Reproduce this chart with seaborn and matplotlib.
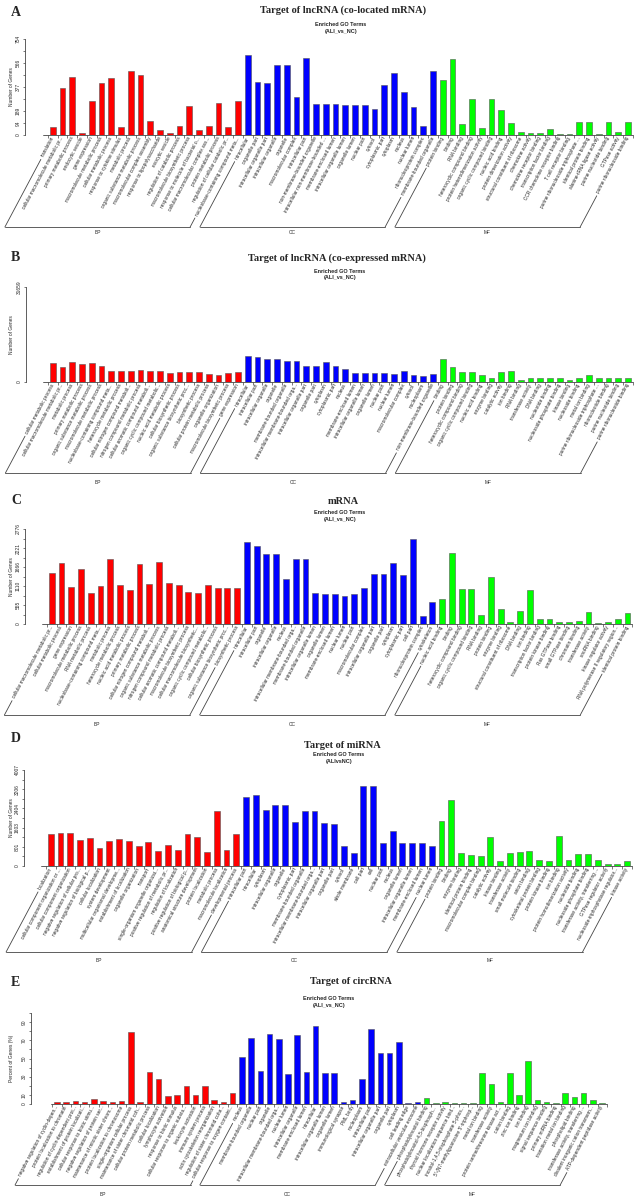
import numpy as np
import pandas as pd
import matplotlib
matplotlib.use("Agg")
import matplotlib.pyplot as plt
from matplotlib.lines import Line2D
import seaborn as sns

# ---- panel A: target of lncRNA (co-located mRNA) ----
a_bp_terms = ["translation", "cellular macromolecule metabolic pr...", "primary metabolic process",
              "endocytic vesicle", "gene expression", "macromolecule metabolic process",
              "cellular metabolic process", "response to cytokine stimulus", "metabolic process",
              "organic substance metabolic process", "macromolecular complex assembly",
              "response to lipopolysaccharide", "exocytic vesicle", "regulation of catabolic process",
              "macromolecule biosynthetic process", "response to molecule of bacterial o...",
              "cellular macromolecular complex ass...", "protein metabolic process",
              "regulation of cellular catabolic pr...", "nucleobase-containing compound meta..."]
a_bp_vals = [60, 368, 457, 13, 265, 405, 444, 63, 499, 468, 113, 39, 13, 74, 231, 39, 71, 255, 66, 268]
a_cc_terms = ["intracellular", "organelle part", "intracellular organelle part", "intracellular organelle",
              "organelle", "macromolecular complex", "intracellular part", "non-membrane-bounded organelle",
              "intracellular non-membrane-bounded ...", "membrane-enclosed lumen",
              "intracellular organelle lumen", "organelle lumen", "nuclear part", "cytosol",
              "cytoplasmic part", "cytoplasm", "nucleus", "nuclear lumen", "ribonucleoprotein complex",
              "membrane-bounded organelle"]
a_cc_vals = [628, 415, 410, 552, 552, 297, 607, 242, 242, 242, 236, 236, 234, 205, 394, 486, 339, 218, 71, 502]
a_mf_terms = ["protein binding", "binding", "RNA binding", "heterocyclic compound binding",
              "protein heterodimerization activity", "organic cyclic compound binding",
              "nucleic acid binding", "protein dimerization activity", "structural constituent of ribosome",
              "chemokine activity", "chemokine receptor binding", "transcription factor binding",
              "CCR chemokine receptor binding", "T cell receptor binding",
              "purine ribonucleoside triphosphate ...", "identical protein binding",
              "alanine-tRNA ligase activity", "purine nucleotide binding", "GTPase activity",
              "purine ribonucleoside binding"]
a_mf_vals = [431, 594, 89, 281, 55, 281, 194, 92, 24, 13, 16, 47, 11, 8, 100, 100, 5, 100, 26, 100]

# ---- panel B: target of lncRNA (co-expressed mRNA) ----
b_bp_terms = ["cellular metabolic process", "cellular macromolecule metabolic pr...", "metabolic process",
              "primary metabolic process", "organic substance metabolic process",
              "macromolecule metabolic process", "nucleobase-containing compound meta...",
              "heterocycle metabolic process", "cellular nitrogen compound metaboli...",
              "nitrogen compound metabolic process", "cellular aromatic compound metaboli...",
              "organic cyclic compound metabolic...", "nucleic acid metabolic process",
              "cellular biosynthetic process", "organic substance biosynthetic proc...",
              "biosynthetic process", "cellular protein metabolic process", "organelle organization",
              "macromolecule biosynthetic process", "gene expression"]
b_bp_vals = [6290, 4960, 6730, 6070, 6290, 5300, 3530, 3530, 3640, 3860,
             3530, 3640, 2980, 3310, 3310, 3310, 2760, 2320, 2870, 3200]
b_cc_terms = ["intracellular", "intracellular part", "intracellular organelle", "organelle",
              "membrane-bounded organelle", "intracellular membrane-bounded orga...",
              "intracellular organelle part", "organelle part", "cytoplasm", "cytoplasmic part",
              "nucleus", "membrane-enclosed lumen", "intracellular organelle lumen", "organelle lumen",
              "nuclear part", "nuclear lumen", "macromolecular complex", "cytosol", "nucleoplasm",
              "non-membrane-bounded organelle"]
b_cc_vals = [8600, 8380, 7500, 7500, 6950, 6950, 5400, 5400, 6620, 5290,
             4410, 2980, 2980, 2980, 2980, 2650, 3530, 2430, 2100, 2760]
b_mf_terms = ["binding", "protein binding", "heterocyclic compound binding", "organic cyclic compound binding",
              "nucleic acid binding", "enzyme binding", "catalytic activity", "ion binding", "RNA binding",
              "transferase activity", "DNA binding", "nucleotide binding", "nucleoside phosphate binding",
              "kinase binding", "nucleoside binding", "metal ion binding",
              "purine ribonucleoside triphosphate ...", "ribonucleotide binding",
              "purine nucleotide binding", "purine ribonucleotide binding"]
b_mf_vals = [7610, 5070, 3420, 3420, 2320, 1430, 3420, 3640, 770, 1430,
             1430, 1430, 1430, 550, 1320, 2430, 1320, 1320, 1320, 1320]

# ---- panel C: mRNA ----
c_bp_terms = ["cellular macromolecule metabolic pr...", "cellular metabolic process", "gene expression",
              "macromolecule metabolic process", "RNA metabolic process",
              "nucleobase-containing compound meta...", "metabolic process",
              "heterocycle metabolic process", "nucleic acid metabolic process",
              "primary metabolic process", "cellular nitrogen compound metaboli...",
              "organic substance metabolic process", "nitrogen compound metabolic process",
              "cellular aromatic compound metaboli...", "macromolecule biosynthetic process",
              "cellular macromolecule biosynthetic...", "organic cyclic compound metabolic...",
              "cellular biosynthetic process", "organic substance biosynthetic proc...",
              "biosynthetic process"]
c_bp_vals = [1500, 1792, 1071, 1597, 906, 1120, 1909, 1130, 984, 1743,
             1159, 1802, 1198, 1130, 935, 916, 1140, 1042, 1042, 1062]
c_cc_terms = ["intracellular", "intracellular part", "organelle", "intracellular organelle", "nucleus",
              "intracellular membrane-bounded orga...", "membrane-bounded organelle",
              "intracellular organelle lumen", "organelle lumen", "membrane-enclosed lumen",
              "nuclear lumen", "nuclear part", "macromolecular complex", "intracellular organelle part",
              "organelle part", "cytoplasm", "cytoplasmic part", "cell part", "ribonucleoprotein complex",
              "cytoskeleton"]
c_cc_vals = [2386, 2279, 2045, 2036, 1325, 1909, 1909, 896, 886, 886,
             818, 886, 1052, 1451, 1471, 1782, 1432, 2484, 224, 633]
c_mf_terms = ["nucleic acid binding", "binding", "heterocyclic compound binding",
              "organic cyclic compound binding", "RNA binding", "protein binding", "enzyme binding",
              "structural constituent of ribosome", "DNA binding", "ion binding",
              "transcription factor binding", "protein kinase binding", "Ras GTPase binding",
              "small GTPase binding", "chromatin binding", "transferase activity", "snoRNA binding",
              "kinase regulator activity", "RNA polymerase II regulatory region...",
              "identical protein binding"]
c_mf_vals = [731, 2065, 1013, 1013, 263, 1383, 438, 58, 370, 993,
             136, 136, 58, 58, 97, 360, 19, 49, 136, 312]

# ---- panel D: target of miRNA ----
d_bp_terms = ["localization", "cellular component organization or ...",
              "cellular component organization", "negative regulation of cellular pro...",
              "negative regulation of biological p...", "cellular localization", "system development",
              "multicellular organismal developme...", "establishment of localization",
              "organelle organization", "transport", "single-organism organelle organizat...",
              "positive regulation of metabolic pr...", "regulation of localization",
              "positive regulation of biological p...", "anatomical structure development",
              "protein localization", "metabolic process", "macromolecule localization",
              "developmental process"]
d_bp_vals = [1322, 1391, 1363, 1085, 1155, 737, 1043, 1127, 1029, 821,
             1002, 626, 890, 654, 1335, 1196, 598, 2309, 668, 1322]
d_cc_terms = ["intracellular part", "intracellular", "cytoplasm", "intracellular organelle", "organelle",
              "cytoplasmic part", "membrane-bounded organelle", "intracellular membrane-bounded orga...",
              "intracellular organelle part", "organelle part", "cytosol", "whole membrane", "cell part",
              "cell", "nuclear part", "nucleus", "organelle lumen", "intracellular organelle lumen",
              "membrane-enclosed lumen", "nuclear lumen"]
d_cc_vals = [2879, 2963, 2323, 2532, 2546, 1836, 2281, 2281, 1808, 1767,
             835, 529, 3338, 3338, 960, 1447, 946, 946, 946, 849]
d_mf_terms = ["protein binding", "binding", "enzyme binding", "identical protein binding",
              "macromolecular complex binding", "catalytic activity", "kinase binding",
              "transferase activity", "small molecule binding", "anion binding",
              "cytoskeletal protein binding", "protein kinase binding", "ion binding",
              "protein homodimerization activity", "nucleotide binding", "nucleoside phosphate binding",
              "transferase activity, transferring ...", "GTPase regulator activity",
              "nucleoside-triphosphatase regulator...", "kinase activity"]
d_mf_vals = [1878, 2740, 556, 459, 431, 1224, 223, 542, 584, 626,
             250, 209, 1238, 250, 501, 501, 250, 83, 97, 223]

# ---- panel E: target of circRNA (percent of genes) ----
e_bp_terms = ["negative regulation of cyclin-depen...", "protein localization to chromatin",
              "regulation of cyclin-dependent prot...", "establishment of protein localizati...",
              "cellular response to biotic stimu...", "negative regulation of protein ser...",
              "maintenance of mitotic sister chrom...", "protein localization to chromosome",
              "single-organism cellular process", "maintenance of sister chromatid coh...",
              "cellular protein metabolic process", "cellular localization", "lymphocyte activation",
              "response to biotic stimulus", "cellular response to organic substa...",
              "leukocyte activation", "immune system process", "actin cytoskeleton reorganization",
              "regulation of sister chromatid cohe...", "cellular response to oxygen-containi..."]
e_bp_vals = [2.6, 2.6, 3.3, 1.9, 5.2, 3.7, 1.9, 3.3, 79.6, 1.9,
             35.2, 27.8, 8.9, 10.0, 20.0, 9.6, 19.3, 4.1, 1.9, 12.2]
e_cc_terms = ["nucleus", "membrane-bounded organelle", "nuclear part", "organelle",
              "intracellular membrane-bounded orga...", "nuclear lumen", "intracellular organelle",
              "membrane-enclosed lumen", "intracellular", "intracellular organelle lumen",
              "organelle lumen", "immunological synapse", "PML body", "nucleoplasm",
              "intracellular part", "intracellular organelle part", "organelle part", "cytoplasm",
              "cell leading edge", "extracellular vesicular exosome"]
e_cc_vals = [51.1, 72.2, 36.3, 77.4, 71.1, 33.0, 76.3, 34.8, 85.6, 34.1,
             34.1, 2.6, 4.1, 27.4, 82.2, 55.9, 56.3, 68.1, 1.1, 2.6]
e_mf_terms = ["phosphatidylinositol binding", "phosphatidylinositol-4,5-bisphosph...",
              "thyroid hormone receptor activity", "nuclear localization sequence bind...",
              "inositol-1,4,5-trisphosphate 5-phos...", "5'-(N7-methylguanosine 5'-triphosp...",
              "metal ion binding", "transferase activity", "protein serine/threonine kinase act...",
              "cation binding", "zinc ion binding", "ion binding", "magnesium ion binding",
              "signal sequence binding", "primary miRNA binding", "transition metal ion binding",
              "phospholipid binding", "transferase activity, transferring ...",
              "divalent inorganic cation transmem...", "ATP-dependent peptidase activity"]
e_mf_vals = [6.3, 1.5, 1.9, 0.7, 0.7, 1.5, 34.1, 22.2, 2.2, 34.1,
             10.0, 47.0, 4.4, 2.2, 1.5, 11.9, 7.4, 12.6, 4.4, 0.7]

groups = ["BP", "CC", "MF"]
palette = {"BP": "#ff0000", "CC": "#0000ff", "MF": "#00ff00"}

sns.set_style("white")
plt.rcParams["font.family"] = ["Liberation Sans", "DejaVu Sans"]

W, H = 638, 1199
fig = plt.figure(figsize=(W / 100, H / 100), dpi=100)


def fx(x):
    return x / W


def fy(y):
    return 1 - y / H


# layout of each panel in pixels of the final image
panels = [
    dict(letter="A", title="Target of lncRNA (co-located mRNA)", sub="(ALI_vs_NC)", ylab="Number of Genes",
         data=(a_bp_terms, a_bp_vals, a_cc_terms, a_cc_vals, a_mf_terms, a_mf_vals),
         ymax=754, yt=np.linspace(0, 754, 9), ytl=["0", "94", "189", "", "377", "", "566", "", "754"],
         left=25, x0=52.7, sp=9.75, top=39, base=135, brk=227, grp=233,
         title_y=10, sub_y=24, letter_y=12, tcx=343, scx=341, bl0=-1.0),
    dict(letter="B", title="Target of lncRNA (co-expressed mRNA)", sub="(ALI_vs_NC)", ylab="Number of Genes",
         data=(b_bp_terms, b_bp_vals, b_cc_terms, b_cc_vals, b_mf_terms, b_mf_vals),
         ymax=31659, yt=[0, 31659], ytl=["0", "31659"],
         left=26, x0=52.7, sp=9.75, top=287, base=382, brk=473, grp=482,
         title_y=258, sub_y=271, letter_y=258, tcx=337, scx=340, bl0=-1.0),
    dict(letter="C", title="mRNA", sub="(ALI_vs_NC)", ylab="Number of Genes",
         data=(c_bp_terms, c_bp_vals, c_cc_terms, c_cc_vals, c_mf_terms, c_mf_vals),
         ymax=2776, yt=np.linspace(0, 2776, 11),
         ytl=["0", "", "555", "", "1110", "", "1666", "", "2221", "", "2776"],
         left=25, x0=51.7, sp=9.76, top=529, base=624, brk=715, grp=725,
         title_y=502, sub_y=513, letter_y=501, tcx=343, scx=340, bl0=-1.0),
    dict(letter="D", title="Target of miRNA", sub="(ALIvsNC)", ylab="Number of Genes",
         data=(d_bp_terms, d_bp_vals, d_cc_terms, d_cc_vals, d_mf_terms, d_mf_vals),
         ymax=4007, yt=np.linspace(0, 4007, 11),
         ytl=["0", "", "801", "", "1603", "", "2404", "", "3206", "", "4007"],
         left=24, x0=50.7, sp=9.77, top=770, base=866, brk=952, grp=960,
         title_y=745, sub_y=754, letter_y=739, tcx=342, scx=339, bl0=-1.0),
    dict(letter="E", title="Target of circRNA", sub="(ALI_vs_NC)", ylab="Percent of Genes (%)",
         data=(e_bp_terms, e_bp_vals, e_cc_terms, e_cc_vals, e_mf_terms, e_mf_vals),
         ymax=100, yt=np.arange(0, 101, 10),
         ytl=["0", "10", "", "30", "", "50", "", "70", "", "90", ""],
         left=31, x0=57, sp=9.24, top=1013, base=1104, brk=1185, grp=1194,
         title_y=982, sub_y=998, letter_y=982, tcx=351, scx=329, bl0=-0.6),
]

axis_col = "#444444"
lab_fs = 3.4
axes = []
all_terms = []
for p in panels:
    bp_t, bp_v, cc_t, cc_v, mf_t, mf_v = p["data"]
    terms = bp_t + cc_t + mf_t
    df = pd.DataFrame({
        "pos": np.arange(len(terms)),
        "value": bp_v + cc_v + mf_v,
        "group": ["BP"] * len(bp_t) + ["CC"] * len(cc_t) + ["MF"] * len(mf_t),
    })
    n = len(terms)
    right = 636
    ax = fig.add_axes([fx(p["left"]), fy(p["base"]), (right - p["left"]) / W, (p["base"] - p["top"]) / H])
    sns.barplot(data=df, x="pos", y="value", hue="group", palette=palette, order=list(range(n)),
                dodge=False, width=0.6, saturation=1, edgecolor="#555555", linewidth=0.4,
                legend=False, ax=ax)
    ax.set_xlim((p["left"] - p["x0"]) / p["sp"], (right - p["x0"]) / p["sp"])
    ax.set_ylim(0, p["ymax"])
    for s in ["top", "right", "bottom"]:
        ax.spines[s].set_visible(False)
    ax.spines["left"].set_color(axis_col)
    ax.spines["left"].set_linewidth(0.6)

    # x axis: baseline, ticks between bars, rotated term labels
    ax.plot([p["bl0"], n - 0.5], [0, 0], color=axis_col, lw=0.6, clip_on=False)
    ax.set_xticks(range(n))
    ax.set_xticklabels(terms, rotation=62, ha="right", va="center", rotation_mode="anchor", fontsize=lab_fs)
    ax.set_xticks(np.arange(-0.5, n), minor=True)
    ax.tick_params(axis="x", which="major", length=0, pad=1.5)
    ax.tick_params(axis="x", which="minor", length=2, width=0.5, color=axis_col, bottom=True)
    ax.set_xlabel("")

    ax.set_yticks(p["yt"])
    ax.set_yticklabels(p["ytl"])
    ax.tick_params(axis="y", labelrotation=90, labelsize=3.5, length=1.8, width=0.5, pad=1.2,
                   color=axis_col, left=True)
    for t in ax.get_yticklabels():
        t.set_va("center")
    ax.set_ylabel(p["ylab"], fontsize=3.5)
    ax.yaxis.set_label_coords((14 - p["left"]) / (right - p["left"]), 0.5)

    # titles
    fig.text(fx(11), fy(p["letter_y"]), p["letter"], ha="left", va="center", fontsize=10,
             fontweight="bold", family="Liberation Serif")
    fig.text(fx(p["tcx"]), fy(p["title_y"]), p["title"], ha="center", va="center", fontsize=7.5,
             fontweight="bold", family="Liberation Serif")
    fig.text(fx(p["scx"]), fy(p["sub_y"]), "Enriched GO Terms", ha="center", va="center",
             fontsize=4, fontweight="bold")
    fig.text(fx(p["scx"]), fy(p["sub_y"] + 7), p["sub"], ha="center", va="center",
             fontsize=4, fontweight="bold")
    axes.append(ax)
    all_terms.append((terms, [len(bp_t), len(cc_t), len(mf_t)]))

# group brackets (BP / CC / MF) drawn parallel to the rotated labels
fig.canvas.draw()
rend = fig.canvas.get_renderer()
ang = np.deg2rad(62)
u = np.array([np.cos(ang), np.sin(ang)])
to_fig = fig.transFigure.inverted()
pad_px = 1.5 * 100 / 72


def label_len(txt):
    t = fig.text(0, 0, txt, fontsize=lab_fs)
    w = t.get_window_extent(rend).width
    t.remove()
    return w


for ax, p, (terms, sizes) in zip(axes, panels, all_terms):
    yb = H - p["brk"]
    start = 0
    for gname, size in zip(groups, sizes):
        bottoms = []
        for i in (start, start + size - 1):
            anc = np.array(ax.transData.transform((i, 0))) - np.array([0, pad_px])
            tb = (anc[1] - yb) / u[1]
            bottom = anc - tb * u
            L = label_len(terms[i]) + 3
            if L < tb:
                top = anc - L * u
                xs, ys = to_fig.transform(np.array([bottom, top])).T
                fig.add_artist(Line2D(xs, ys, color=axis_col, lw=0.6))
            bottoms.append(bottom)
        xs, ys = to_fig.transform(np.array(bottoms)).T
        fig.add_artist(Line2D(xs, ys, color=axis_col, lw=0.6))
        mid = (bottoms[0][0] + bottoms[1][0]) / 2
        fig.text(mid / W, fy(p["grp"]), gname, ha="center", va="center", fontsize=3.5)
        start += size

fig.savefig("out.png", dpi=100)
